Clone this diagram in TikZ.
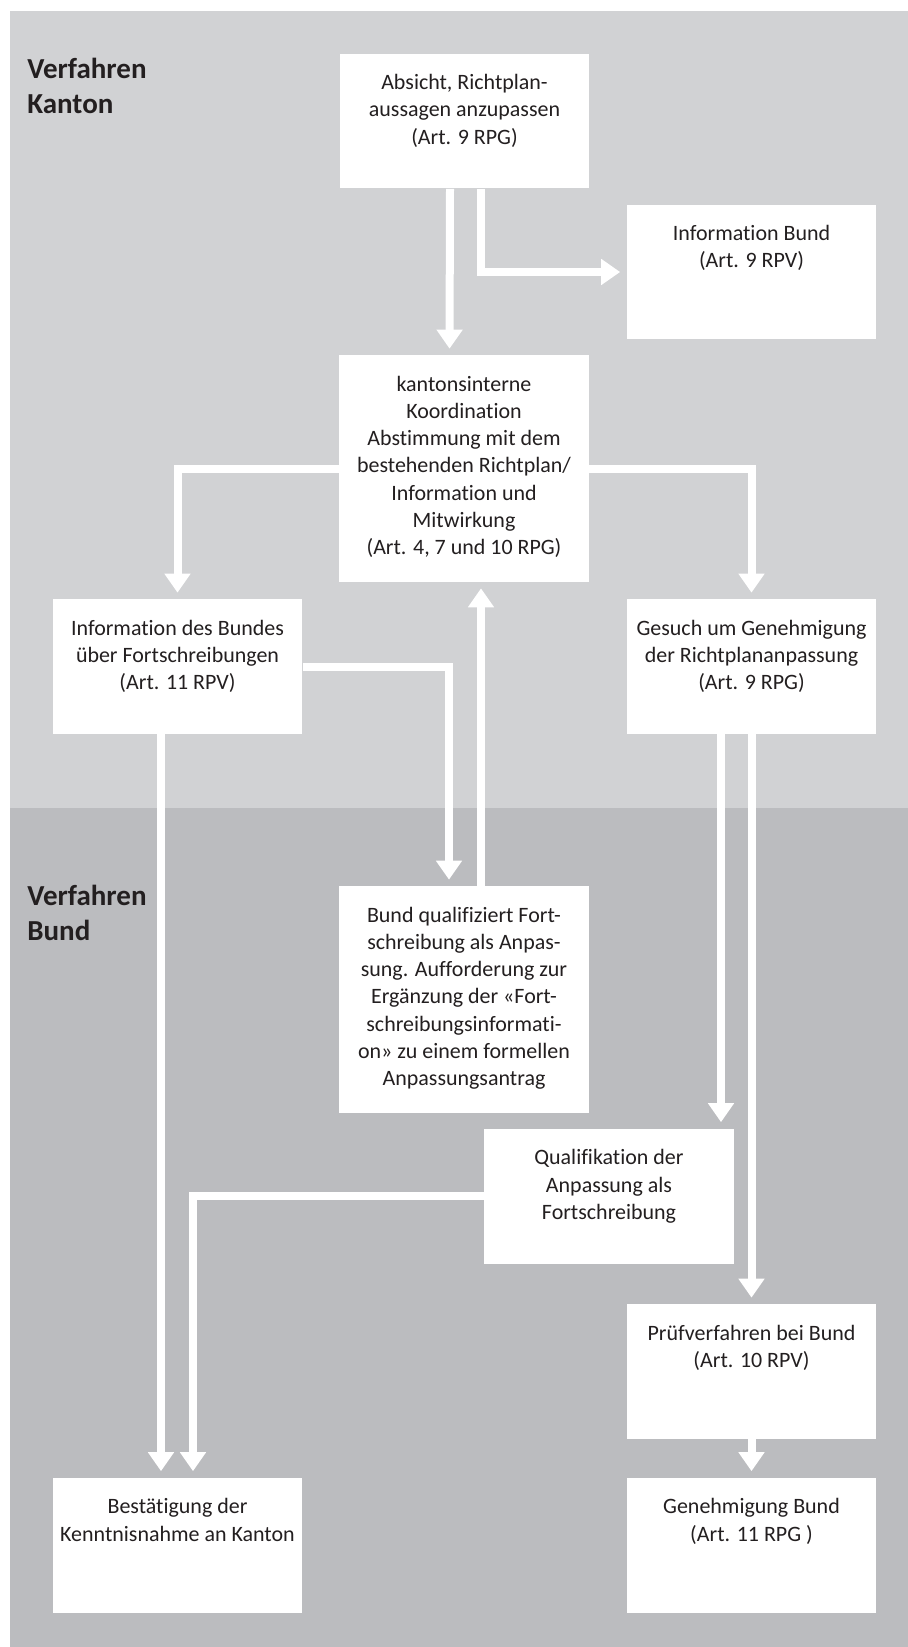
\documentclass[tikz,border=0pt]{standalone}
\usepackage{fontspec}
\setmainfont{Carlito}[Ligatures=NoCommon]
\usepackage{xcolor}
\usepackage{tikz}
\usetikzlibrary{arrows.meta, positioning, calc}

\definecolor{kantongray}{RGB}{209,210,212}
\definecolor{bundgray}{RGB}{187,188,191}
\definecolor{textgray}{RGB}{35,31,32}

\begin{document}
\begin{tikzpicture}[
        x=0.02cm, y=-0.02cm,
        stage/.style={rectangle, fill=white, minimum width=5cm, minimum height=2.7cm, inner sep=0pt},
        tallstage/.style={stage, minimum height=4.54cm},
        stagetext/.style={anchor=north, yshift=-0.42cm, inner sep=0pt, align=center, text=textgray, font=\fontsize{12.5}{15.5}\selectfont, execute at begin node=\strut},
        lane/.style={anchor=north west, inner sep=0pt, align=left, text=textgray, font=\bfseries\fontsize{16.5}{20}\selectfont},
        arrow/.style={-{Triangle[width=0.5cm, length=0.38cm]}, line width=0.16cm, draw=white, shorten >=0.12cm}
    ]
    \useasboundingbox (0,0) rectangle (908,1647);

    % Lanes
    \fill[kantongray] (10,11) rectangle (908,808);
    \fill[bundgray] (10,808) rectangle (908,1647);
    \node[lane] (lane_kanton) at (27,58) {Verfahren\\Kanton};
    \node[lane] (lane_bund) at (27,885) {Verfahren\\Bund};

    % Verfahren Kanton
    \node[stage] (absicht) at (464.5,121) {};
    \node[stagetext] (absicht_text) at (absicht.north) {Absicht, Richtplan-\\aussagen anzupassen\\(Art. 9 RPG)};
    \node[stage] (info_bund) at (751.5,272) {};
    \node[stagetext] (info_bund_text) at (info_bund.north) {Information Bund\\(Art. 9 RPV)};
    \node[tallstage] (koordination) at (464,468.5) {};
    \node[stagetext] (koordination_text) at (koordination.north) {kantonsinterne\\Koordination\\Abstimmung mit dem\\bestehenden Richtplan/\\Information und\\Mitwirkung\\(Art. 4, 7 und 10 RPG)};
    \node[stage] (info_fort) at (177.5,666.5) {};
    \node[stagetext] (info_fort_text) at (info_fort.north) {Information des Bundes\\über Fortschreibungen\\(Art. 11 RPV)};
    \node[stage] (gesuch) at (751.5,666.5) {};
    \node[stagetext] (gesuch_text) at (gesuch.north) {Gesuch um Genehmigung\\der Richtplananpassung\\(Art. 9 RPG)};

    % Verfahren Bund
    \node[tallstage] (bund_qual) at (464,999.5) {};
    \node[stagetext] (bund_qual_text) at (bund_qual.north) {Bund qualifiziert Fort-\\schreibung als Anpas-\\sung. Aufforderung zur\\Ergänzung der «Fort-\\schreibungsinformati-\\on» zu einem formellen\\Anpassungsantrag};
    \node[stage] (qualif) at (609,1196) {};
    \node[stagetext] (qualif_text) at (qualif.north) {Qualifikation der\\Anpassung als\\Fortschreibung};
    \node[stage] (pruef) at (751.5,1371.5) {};
    \node[stagetext] (pruef_text) at (pruef.north) {Prüfverfahren bei Bund\\(Art. 10 RPV)};
    \node[stage] (bestaet) at (177.5,1545) {};
    \node[stagetext] (bestaet_text) at (bestaet.north) {Bestätigung der\\Kenntnisnahme an Kanton};
    \node[stage] (genehm) at (751.5,1545) {};
    \node[stagetext] (genehm_text) at (genehm.north) {Genehmigung Bund\\(Art. 11 RPG )};

    % Connectors
    \coordinate (gesuch_out) at ([xshift=-0.61cm]gesuch.south);
    \draw[arrow] ([xshift=-0.29cm]absicht.south) -- ([xshift=-0.29cm]koordination.north);
    \draw[arrow] ([xshift=0.33cm]absicht.south) |- (info_bund.west);
    \draw[arrow] (koordination.west) -| (info_fort.north);
    \draw[arrow] (koordination.east) -| (gesuch.north);
    \draw[arrow] (info_fort.east) -| ([xshift=-0.3cm]bund_qual.north);
    \draw[arrow] ([xshift=0.34cm]bund_qual.north) -- ([xshift=0.34cm]koordination.south);
    \draw[arrow] (gesuch_out) -- (gesuch_out |- qualif.north);
    \draw[arrow] (gesuch.south) -- (pruef.north);
    \draw[arrow] (qualif.west) -| ([xshift=0.31cm]bestaet.north);
    \draw[arrow] ([xshift=-0.33cm]info_fort.south) -- ([xshift=-0.33cm]bestaet.north);
    \draw[arrow] (pruef.south) -- (genehm.north);

\end{tikzpicture}
\end{document}
